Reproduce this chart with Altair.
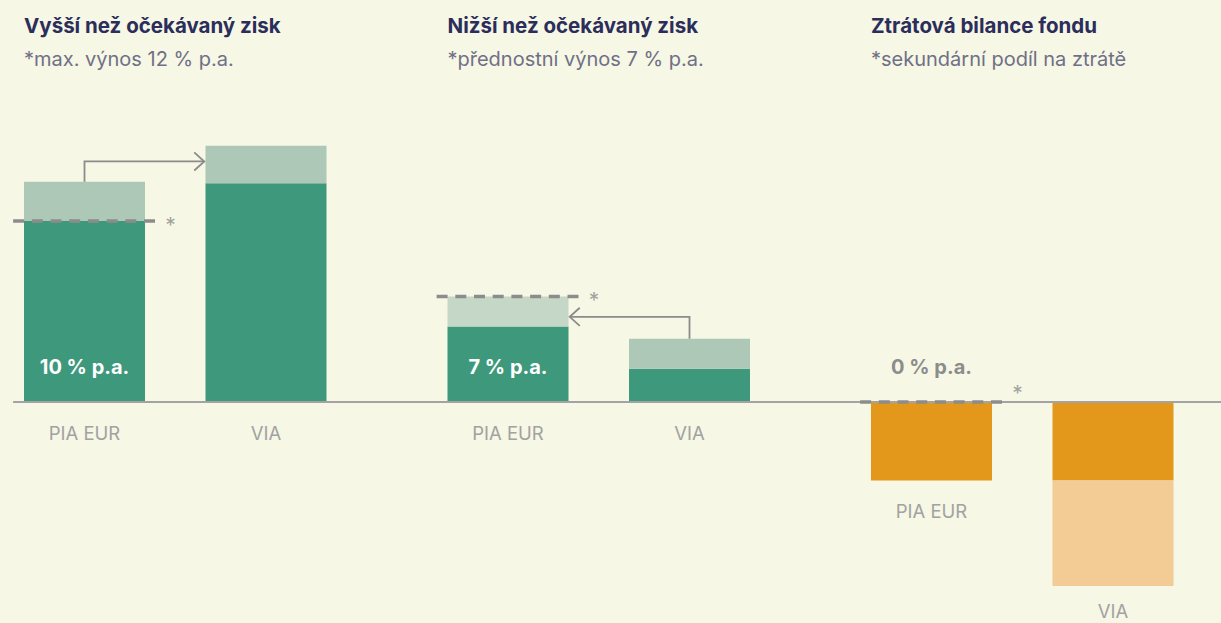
import altair as alt
import pandas as pd

# ---------------- data ----------------
group_titles = ["Vyšší než očekávaný zisk", "Nižší než očekávaný zisk", "Ztrátová bilance fondu"]
group_notes = ["*max. výnos 12 % p.a.", "*přednostní výnos 7 % p.a.", "*sekundární podíl na ztrátě"]
funds = ["PIA EUR", "VIA"]
# dark (base) part and total (incl. light part) per group
pia_base = [12.0, 5.0, -5.2]
pia_total = [14.6, 7.0, -5.2]
via_base = [14.5, 2.2, -5.2]
via_total = [17.0, 4.2, -12.2]
thresholds = [12.0, 7.0, 0.0]
rate_labels = ["10 % p.a.", "7 % p.a.", "0 % p.a."]
arrow_dir = ["right", "left", None]

# ---------------- layout / style ----------------
W, H = 1221, 623
GROUP_STEP, BAR_STEP, BAR_W = 3.5, 1.5, 1.0
PX_X = 121.0
PX_Y = 15.08
X0_PX, BASE_PX = 24.0, 402.0
x_domain = [-X0_PX / PX_X, (W - X0_PX) / PX_X]
y_domain = [-(H - BASE_PX) / PX_Y, BASE_PX / PX_Y]

BG = "#f6f7e4"
DARK_G, LIGHT_G, LIGHTER_G = "#3e987b", "#aec8b8", "#c5d8c8"
ORANGE, LIGHT_O = "#e3981c", "#f2cc94"
GRAY = "#8c8c8c"
NAVY = "#2b2d5b"
SUB = "#6f7088"
LABEL_GRAY = "#a2a2a2"
FONT = "Inter"

bars, dashes, arrows, texts = [], [], [], []
for g in range(3):
    gx = g * GROUP_STEP
    neg = thresholds[g] <= 0 and pia_base[g] < 0
    for b, (base, total) in enumerate([(pia_base[g], pia_total[g]), (via_base[g], via_total[g])]):
        x = gx + b * BAR_STEP
        dark = ORANGE if neg else DARK_G
        light = LIGHT_O if neg else (LIGHTER_G if (g == 1 and b == 0) else LIGHT_G)
        bars.append(dict(x=x, x2=x + BAR_W, y=0, y2=base, c=dark))
        if total != base:
            bars.append(dict(x=x, x2=x + BAR_W, y=base, y2=total, c=light))
        low = min(0, base, total)
        texts.append(dict(x=x + BAR_W / 2, y=low - (1.75 if low < -8 else 2.1), t=funds[b],
                          c=LABEL_GRAY, s=18.5, w="normal", a="center"))
    # threshold dashed line + asterisk
    dashes.append(dict(x=gx - 0.09, x2=gx + BAR_W + 0.09, y=thresholds[g]))
    ast_y = thresholds[g] + (0.45 if thresholds[g] == 0 else -0.4)
    texts.append(dict(x=gx + BAR_W + 0.21, y=ast_y, t="*", c=LABEL_GRAY, s=21, w="normal", a="center"))
    # rate label
    in_bar = pia_base[g] > 0
    texts.append(dict(x=gx + BAR_W / 2, y=2.25, t=rate_labels[g], c="white" if in_bar else GRAY,
                      s=20, w="bold", a="center"))
    # titles
    texts.append(dict(x=gx, y=24.85, t=group_titles[g], c=NAVY, s=20.5, w="bold", a="left"))
    texts.append(dict(x=gx, y=22.7, t=group_notes[g], c=SUB, s=20, w="normal", a="left"))
    # arrows
    if arrow_dir[g] == "right":
        sx, sy = gx + BAR_W / 2, pia_total[g]
        ex = gx + BAR_STEP - 0.01
        hy = sy + 1.35
        arrows += [dict(p=f"s{g}", o=0, x=sx, y=sy), dict(p=f"s{g}", o=1, x=sx, y=hy),
                   dict(p=f"s{g}", o=2, x=ex, y=hy),
                   dict(p=f"h{g}", o=0, x=ex - 0.083, y=hy + 0.6), dict(p=f"h{g}", o=1, x=ex, y=hy),
                   dict(p=f"h{g}", o=2, x=ex - 0.083, y=hy - 0.6)]
    elif arrow_dir[g] == "left":
        sx, sy = gx + BAR_STEP + BAR_W / 2, via_total[g]
        ex = gx + BAR_W + 0.01
        hy = sy + 1.45
        arrows += [dict(p=f"s{g}", o=0, x=sx, y=sy), dict(p=f"s{g}", o=1, x=sx, y=hy),
                   dict(p=f"s{g}", o=2, x=ex, y=hy),
                   dict(p=f"h{g}", o=0, x=ex + 0.083, y=hy + 0.6), dict(p=f"h{g}", o=1, x=ex, y=hy),
                   dict(p=f"h{g}", o=2, x=ex + 0.083, y=hy - 0.6)]

xs = alt.Scale(domain=x_domain, nice=False, zero=False)
ys = alt.Scale(domain=y_domain, nice=False, zero=False)
X = lambda f="x": alt.X(f"{f}:Q", scale=xs, axis=None)
Y = lambda f="y": alt.Y(f"{f}:Q", scale=ys, axis=None)

bar_layer = alt.Chart(pd.DataFrame(bars)).mark_bar(cornerRadius=0).encode(
    x=X(), x2="x2:Q", y=Y(), y2="y2:Q", color=alt.Color("c:N", scale=None))

base_layer = alt.Chart(pd.DataFrame([dict(x=-0.09, x2=x_domain[1], y=0)])).mark_rule(
    color="#a3a3a3", strokeWidth=2).encode(x=X(), x2="x2:Q", y=Y())

dash_layer = alt.Chart(pd.DataFrame(dashes)).mark_rule(
    color=GRAY, strokeWidth=3.5, strokeDash=[11, 7.7]).encode(x=X(), x2="x2:Q", y=Y())

arrow_layer = alt.Chart(pd.DataFrame(arrows)).mark_line(
    color=GRAY, strokeWidth=1.8, strokeJoin="miter").encode(
    x=X(), y=Y(), detail="p:N", order="o:Q")

text_layers = []
tdf = pd.DataFrame(texts)
for (s, w, a), sub in tdf.groupby(["s", "w", "a"]):
    text_layers.append(alt.Chart(sub).mark_text(
        font=FONT, fontSize=float(s), fontWeight=w, align=a, baseline="middle").encode(
        x=X(), y=Y(), text="t:N", color=alt.Color("c:N", scale=None)))

chart = alt.layer(bar_layer, base_layer, dash_layer, arrow_layer, *text_layers).properties(
    width=W, height=H, background=BG, padding=0,
    autosize=alt.AutoSizeParams(type="none")
).configure_view(stroke=None)

chart.save("out.html", embed_options={"renderer": "svg", "actions": False})
